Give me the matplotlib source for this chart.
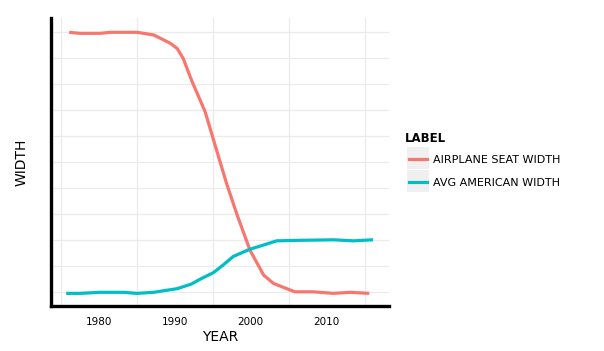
import matplotlib.pyplot as plt
from matplotlib.lines import Line2D
from matplotlib.patches import Rectangle

# valores (unidades arbitrarias, el eje y no tiene etiquetas)
seat_years = [1976.1, 1977.5, 1980.2, 1981.5, 1985.0, 1987.2, 1989.4, 1990.3, 1991.1,
              1992.2, 1994.0, 1995.1, 1996.8, 1998.2, 1999.9, 2001.7, 2003.0, 2005.8,
              2008.2, 2010.9, 2013.1, 2015.6]
seat_width = [55.0, 54.8, 54.8, 55.0, 55.0, 54.5, 52.9, 51.9, 50.0,
              45.8, 39.7, 34.3, 26.0, 19.9, 13.1, 8.3, 6.7, 5.1,
              5.1, 4.8, 5.0, 4.8]

avg_years = [1975.7, 1977.5, 1980.2, 1983.2, 1985.0, 1987.2, 1990.3, 1992.2, 1993.3,
             1995.1, 1996.4, 1997.7, 1999.9, 2001.7, 2003.4, 2006.5, 2010.9, 2013.5, 2016.1]
avg_width = [4.8, 4.8, 5.0, 5.0, 4.8, 5.0, 5.7, 6.6, 7.5,
             8.8, 10.3, 11.9, 13.3, 14.1, 14.9, 15.0, 15.1, 14.9, 15.1]

labels = ['AIRPLANE SEAT WIDTH', 'AVG AMERICAN WIDTH']
colors = ['#F8766D', '#00BFC4']
x_ticks = [1980, 1990, 2000, 2010]

W, H = 604, 351
fig = plt.figure(figsize=(W / 100, H / 100), dpi=100)
ax = fig.add_axes([51 / W, 1 - 306 / H, 338 / W, 288 / H])

# rejilla
for x in [1975, 1985, 1995, 2005, 2015]:
    ax.axvline(x, color='#ebebeb', lw=0.9, zorder=0)
for y in range(5, 60, 5):
    ax.axhline(y, color='#ebebeb', lw=0.9, zorder=0)

ax.plot(seat_years, seat_width, color=colors[0], lw=2.3, solid_capstyle='butt')
ax.plot(avg_years, avg_width, color=colors[1], lw=2.3, solid_capstyle='butt')

ax.set_xlim(1973.7, 2018.2)
ax.set_ylim(2.37, 57.75)
ax.set_xticks(x_ticks)
ax.set_xticklabels([str(t) for t in x_ticks], fontsize=7.5)
ax.set_yticks([])
ax.tick_params(axis='x', length=0, pad=8)

for side in ['top', 'right']:
    ax.spines[side].set_visible(False)
for side in ['left', 'bottom']:
    ax.spines[side].set_linewidth(2.4)
    ax.spines[side].set_color('black')

ax.set_xlabel('YEAR', fontsize=10, labelpad=2)
ax.set_ylabel('WIDTH', fontsize=10, labelpad=16)

# leyenda a mano, estilo ggplot con fondo gris en las claves
def fx(px):
    return px / W

def fy(py):
    return 1 - py / H

fig.text(fx(405), fy(139), 'LABEL', fontsize=8.5, fontweight='bold', va='center')
for i, (lab, c) in enumerate(zip(labels, colors)):
    top = 147 + i * 23
    fig.add_artist(Rectangle((fx(407), fy(top + 22)), 22 / W, 22 / H,
                             facecolor='#f0f0f0', edgecolor='none',
                             transform=fig.transFigure))
    fig.add_artist(Line2D([fx(409), fx(427)], [fy(top + 11.5)] * 2, color=c,
                          lw=2.3, transform=fig.transFigure))
    fig.text(fx(433), fy(top + 13), lab, fontsize=8, va='center')

fig.savefig('out.png', dpi=100)
